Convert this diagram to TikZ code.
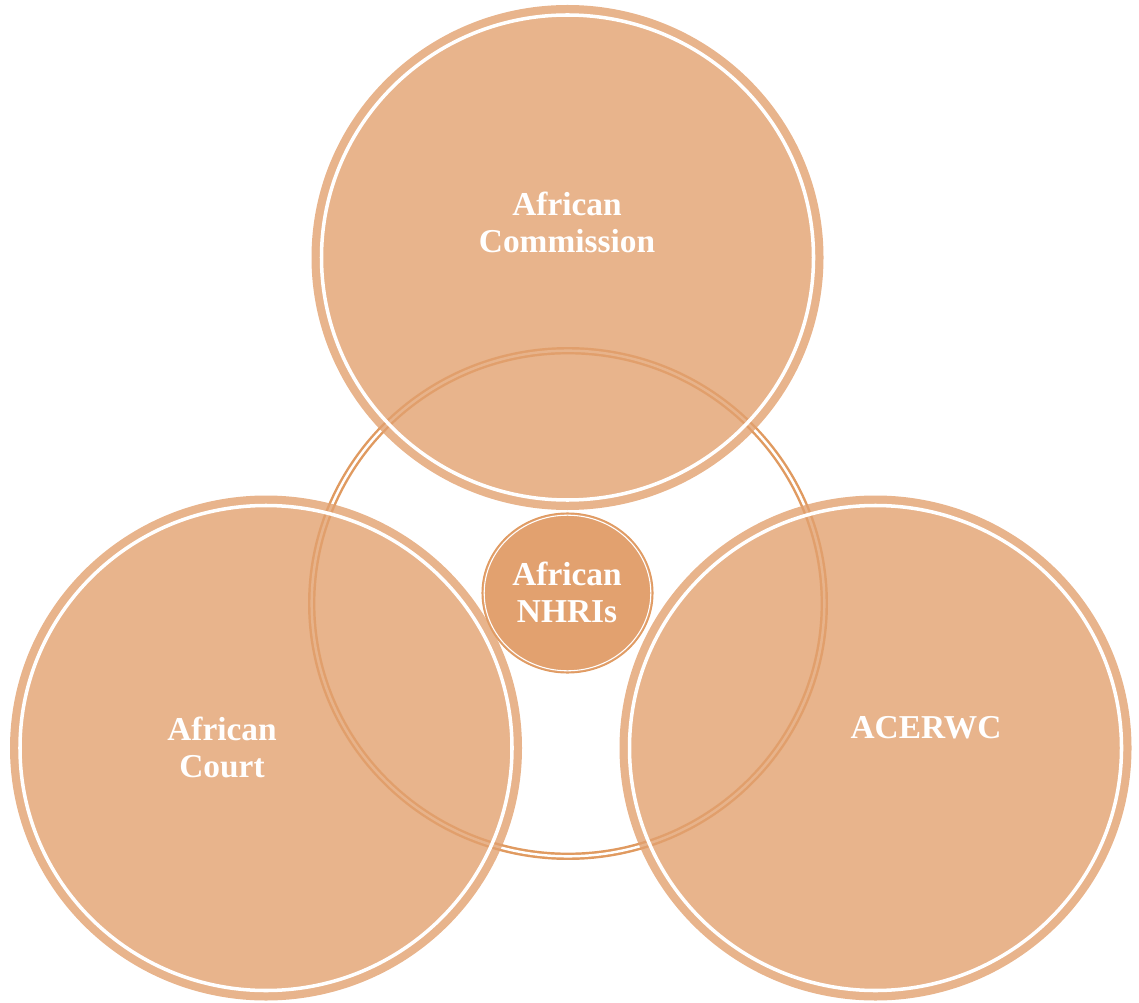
\documentclass[tikz,border=0pt]{standalone}
\usepackage{fontspec}
\setmainfont{Liberation Serif}
\usepackage{tikz}
\usetikzlibrary{positioning}
\definecolor{petal}{RGB}{226,161,111}
\definecolor{ringc}{RGB}{224,154,96}
\tikzstyle{petalfill}=[fill=petal,fill opacity=0.8]
\tikzstyle{wline}=[draw=white,line width=2pt]
\tikzstyle{ctext}=[text=white,font=\fontsize{19}{21}\selectfont\bfseries,align=center]

\begin{document}
\begin{tikzpicture}[x=0.02cm,y=-0.02cm]
\useasboundingbox (0,0) rectangle (1139,1003);
% ring behind the three circles
\draw[ringc,line width=1.4pt,double=white,double distance=1.4pt] (568,603.5) ellipse [x radius=256.3, y radius=252.8];
% three big circles
\foreach \cx/\cy in {567.5/257.5, 266/748, 875.5/748} {
  \fill[petalfill] (\cx,\cy) ellipse [x radius=256, y radius=252.5];
  \draw[wline] (\cx,\cy) ellipse [x radius=246, y radius=242.5];
}
% small circle in the middle
\fill[petal] (567.5,593) ellipse [x radius=85.5, y radius=80];
\draw[ringc,line width=0.6pt] (567.5,593) ellipse [x radius=85.5, y radius=80];
\draw[white,line width=0.6pt] (567.5,593) ellipse [x radius=83.3, y radius=77.8];

\node[ctext] (comm) at (567,222) {African\\Commission};
\node[ctext] (nhri) at (567,592) {African\\NHRIs};
\node[ctext] (court) at (222,747) {African\\Court};
\node[ctext] (acerwc) at (926,728) {ACERWC};
\end{tikzpicture}
\end{document}
